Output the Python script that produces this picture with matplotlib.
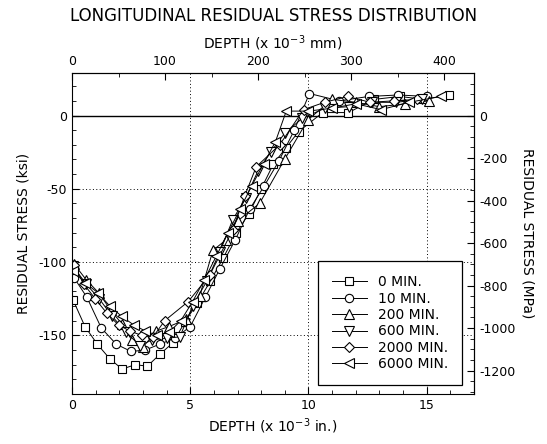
import matplotlib
matplotlib.use("Agg")
import matplotlib.pyplot as plt

plt.rcParams['font.family'] = ['DejaVu Sans']
plt.rcParams['axes.unicode_minus'] = False

# depth in 10^-3 in., stress in ksi
x_0 = [0.05, 0.55, 1.07, 1.6, 2.12, 2.67, 3.19, 3.71, 4.27, 4.77, 5.3, 5.85, 6.4, 6.95,
       7.48, 8.0, 8.52, 9.05, 9.58, 10.6, 11.69, 12.78, 13.87, 14.85, 15.95]
y_0 = [-126, -144, -156, -166, -173, -170, -171, -163, -155, -141, -128, -113, -97, -80,
       -67, -50, -33, -22, -11, 2, 2, 11, 13, 11, 14]

x_10 = [0.1, 0.63, 1.24, 1.87, 2.5, 3.1, 3.71, 4.35, 5.0, 5.64, 6.24, 6.9, 7.51, 8.13,
        8.75, 9.4, 10.04, 11.3, 12.55, 13.8, 15.03]
y_10 = [-111, -124, -145, -156, -161, -160, -156, -152, -144, -124, -105, -85, -64, -48,
        -31, -10, 15, 10, 13, 14, 13]

x_200 = [0.07, 0.6, 1.13, 1.65, 2.1, 2.52, 3.0, 3.57, 4.1, 4.84, 5.4, 5.96, 6.5, 7.0,
         7.93, 8.99, 9.97, 11.0, 12.0, 13.0, 14.1, 15.1]
y_200 = [-101, -112, -121, -133, -142, -153, -158, -147, -144, -139, -123, -92, -85, -72,
         -60, -30, -3, 11, 9, 6, 8, 10]

x_600 = [0.05, 0.6, 1.15, 1.7, 2.3, 2.87, 3.4, 4.0, 4.56, 5.1, 5.7, 6.25, 6.8, 7.35,
         7.86, 8.4, 9.0, 9.73, 10.7, 11.7, 12.7, 13.7, 14.8]
y_600 = [-103, -115, -125, -137, -148, -157, -153, -152, -151, -130, -113, -93, -71, -56,
         -38, -25, -12, -2, 5, 6, 9, 9, 11]

x_2000 = [0.07, 0.5, 0.98, 1.48, 1.97, 2.45, 2.94, 3.43, 3.92, 4.91, 5.82, 6.8, 7.3,
          7.79, 8.78, 9.79, 10.68, 11.66, 12.6, 13.6, 14.6]
y_2000 = [-102, -115, -125, -135, -143, -147, -150, -151, -140, -127, -109, -78, -55,
          -35, -20, 4, 9, 13, 9, 10, 11]

x_6000 = [0.05, 0.55, 1.1, 1.6, 2.1, 2.62, 3.1, 3.6, 4.1, 4.6, 5.1, 5.6, 6.1, 6.6, 7.1,
          7.6, 8.1, 8.6, 9.06, 10.0, 11.0, 12.0, 13.07, 14.26, 15.6]
y_6000 = [-106, -114, -121, -130, -137, -143, -147, -150, -148, -140, -127, -112, -96, -80,
          -64, -48, -33, -18, 3, 3, 5, 8, 4, 9, 13]

series = [
    (x_0, y_0, "s", 5.2, "0 MIN."),
    (x_10, y_10, "o", 6, "10 MIN."),
    (x_200, y_200, "^", 6.5, "200 MIN."),
    (x_600, y_600, "v", 6.5, "600 MIN."),
    (x_2000, y_2000, "D", 5, "2000 MIN."),
    (x_6000, y_6000, "<", 6.5, "6000 MIN."),
]

KSI_TO_MPA = 6.895
IN_TO_MM = 25.4

fig = plt.figure(figsize=(5.47, 4.44), dpi=100)
ax = fig.add_axes([0.1316, 0.1126, 0.735, 0.7230])

for xs, ys, mk, ms, lab in series:
    ax.plot(xs, ys, color="black", lw=0.7, marker=mk, ms=ms, mfc="white",
            mec="black", mew=0.8, label=lab)

# reference lines
for xv in [5, 10, 15]:
    ax.axvline(xv, color="black", ls=(0, (1, 2.5)), lw=0.7, zorder=0)
for yv in [-50, -100, -150]:
    ax.axhline(yv, color="black", ls=(0, (1, 2.5)), lw=0.7, zorder=0)
ax.axhline(0, color="black", lw=1.0, zorder=0)

ax.set_xlim(0, 17)
ax.set_ylim(-190, 29)
ax.set_xticks([0, 5, 10, 15])
ax.set_xticks(range(0, 18), minor=True)
ax.set_yticks([0, -50, -100, -150])
ax.set_yticks(range(-180, 30, 10), minor=True)
ax.tick_params(which="both", direction="in", labelsize=9)
ax.tick_params(which="major", length=5)
ax.tick_params(which="minor", length=3)
ax.set_xlabel("DEPTH (x 10$^{-3}$ in.)", fontsize=10, labelpad=3)
ax.set_ylabel("RESIDUAL STRESS (ksi)", fontsize=10, labelpad=6)

top = ax.secondary_xaxis("top", functions=(lambda v: v * IN_TO_MM, lambda v: v / IN_TO_MM))
top.set_xticks([0, 100, 200, 300, 400])
top.set_xticks(range(0, 450, 50), minor=True)
top.tick_params(which="both", direction="in", labelsize=9)
top.tick_params(which="major", length=5)
top.tick_params(which="minor", length=3)
top.set_xlabel("DEPTH (x 10$^{-3}$ mm)", fontsize=10, labelpad=5)

right = ax.secondary_yaxis("right", functions=(lambda v: v * KSI_TO_MPA, lambda v: v / KSI_TO_MPA))
right.set_yticks(list(range(-1200, 201, 200)))
right.set_yticks(list(range(-1300, 201, 50)), minor=True)
right.tick_params(which="both", direction="in", labelsize=9)
right.tick_params(which="major", length=5)
right.tick_params(which="minor", length=3)
right.set_ylabel("RESIDUAL STRESS (MPa)", fontsize=10, rotation=270, labelpad=14)

leg = ax.legend(loc="lower right", bbox_to_anchor=(0.970, 0.028), borderaxespad=0,
                fontsize=10, frameon=True, fancybox=False, edgecolor="black",
                framealpha=1, handlelength=2.5, labelspacing=0.17, borderpad=1.0,
                handletextpad=0.8)
leg.get_frame().set_linewidth(0.9)

fig.suptitle("LONGITUDINAL RESIDUAL STRESS DISTRIBUTION", x=0.5, y=0.985, fontsize=12)

fig.savefig("out.png", dpi=100)
